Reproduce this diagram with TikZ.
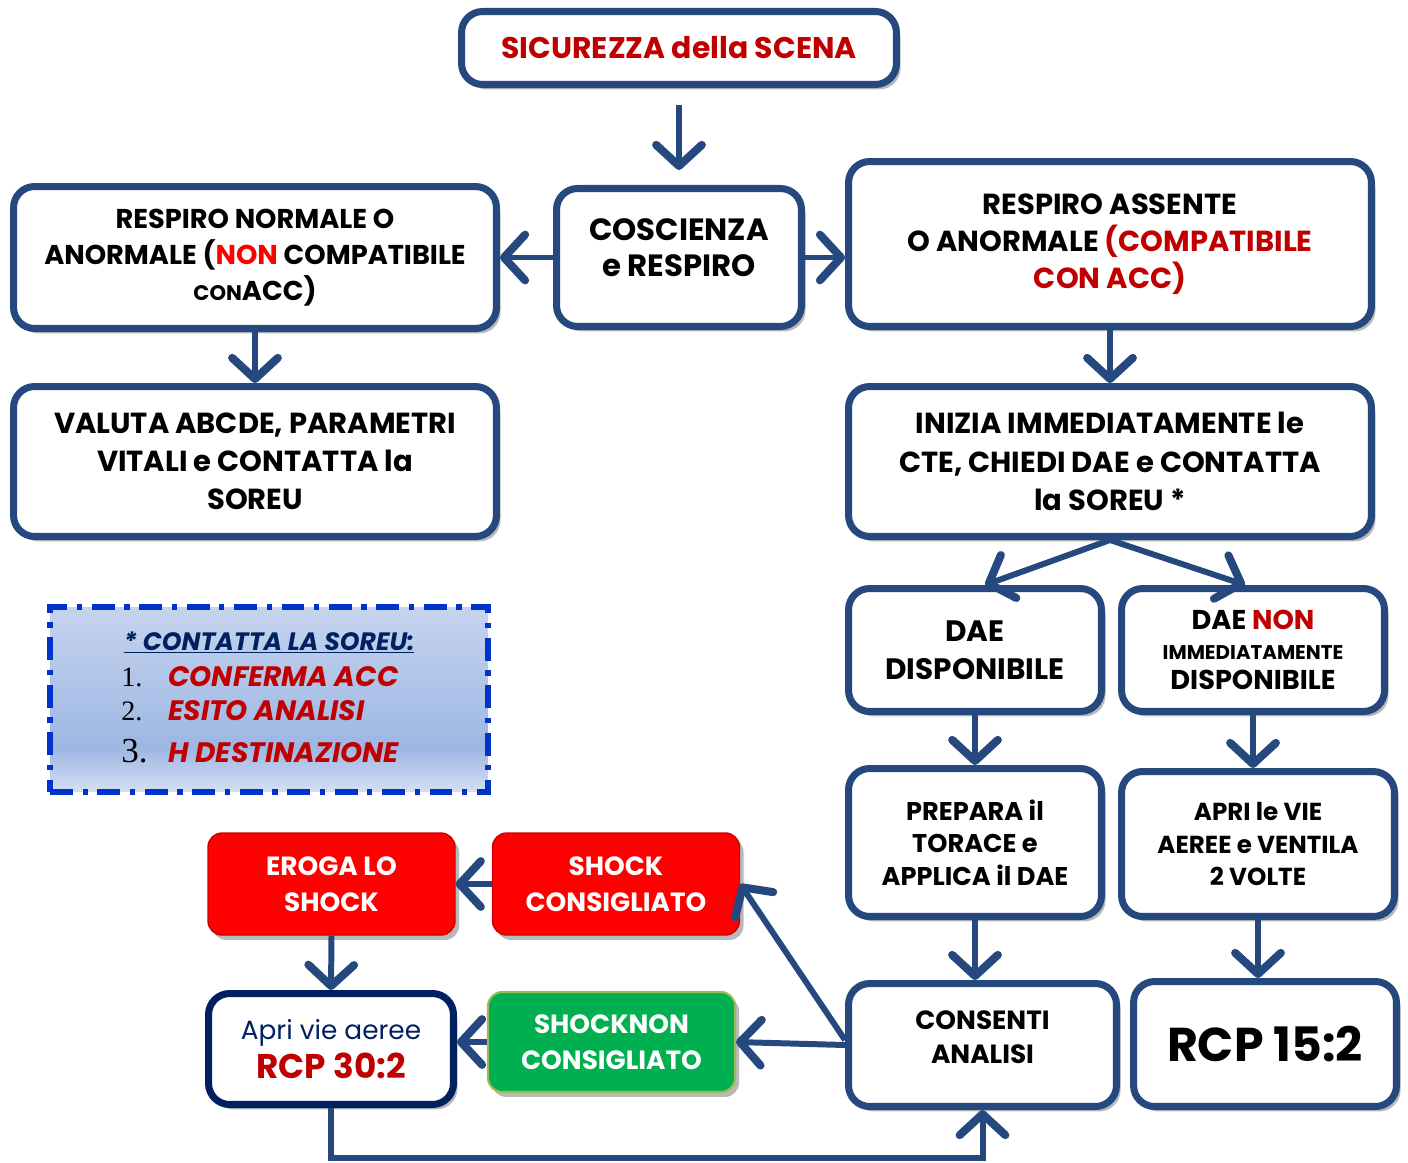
\documentclass[tikz,border=0pt]{standalone}
\usepackage{fontspec}
\setmainfont{Poppins}
\newfontfamily\numfont{Liberation Serif}
\usepackage{xcolor}
\usetikzlibrary{arrows.meta, positioning, shadows}
\definecolor{boxblue}{HTML}{25497E}
\definecolor{darkred}{HTML}{C00000}
\definecolor{brightred}{HTML}{FF0000}
\definecolor{navy}{HTML}{002060}
\definecolor{shockgreen}{HTML}{00B050}
\definecolor{greenedge}{HTML}{9BBB59}
\definecolor{legline}{HTML}{0033CC}
\definecolor{legtop}{HTML}{C6D4EE}
\definecolor{legband}{HTML}{9DB7E3}
\definecolor{legbot}{HTML}{D4DFF3}
\pgfdeclareverticalshading{legshade}{100bp}{color(0bp)=(legbot); color(25bp)=(legbot); color(37bp)=(legband); color(75bp)=(legtop); color(100bp)=(legtop)}
\newcommand{\fsz}[2]{\fontsize{#1}{#2}\selectfont}

\begin{document}
\begin{tikzpicture}[x=0.02cm, y=-0.02cm,
    shadowed/.style={drop shadow={shadow xshift=2.3pt, shadow yshift=-2.8pt, fill=black!50, opacity=.55}},
    box/.style 2 args={rectangle, rounded corners=12pt, draw=boxblue, line width=4pt, fill=white, align=center, inner sep=0pt, minimum width=#1, minimum height=#2, shadowed},
    redbox/.style={rectangle, rounded corners=8pt, draw=brightred!80!black, line width=0.8pt, fill=brightred, text=white, align=center, inner sep=0pt, minimum width=4.94cm, minimum height=2.04cm, font=\fsz{15}{20.4}\bfseries, shadowed},
    greenbox/.style={redbox, fill=shockgreen, draw=greenedge, line width=1.2pt, minimum height=2.00cm},
    flow/.style={draw=boxblue, line width=3.4pt, -{Straight Barb[length=12pt, width=26pt, line width=0pt 1.35, round]}},
    legbox/.style={rectangle, draw=legline, line width=3.2pt, dash pattern=on 13pt off 5.5pt on 3pt off 5.5pt, shading=legshade, minimum width=8.76cm, minimum height=3.70cm},
    legitem/.style={anchor=base west, inner sep=0pt, font=\fsz{16}{18}\bfseries\itshape, text=darkred}
]
\useasboundingbox (0,0) rectangle (1408,1162);

% upper part
\node[box={8.70cm}{1.46cm}, font=\fsz{17}{20}\bfseries, text=darkred] (scena) at (679,48) {SICUREZZA della SCENA};
\node[box={4.90cm}{2.76cm}, font=\fsz{17.5}{20.4}\bfseries] (coscienza) at (679,257.5) {COSCIENZA\\e RESPIRO\\[-9pt]\mbox{}};
\node[box={9.66cm}{2.84cm}, font=\fsz{15.5}{20.4}\bfseries] (respnorm) at (255,257.5) {RESPIRO NORMALE O\\ANORMALE (\textcolor{brightred}{NON} COMPATIBILE\\{\fsz{12}{14}CON}ACC)};
\node[box={10.46cm}{3.30cm}, font=\fsz{16.5}{21}\bfseries] (respass) at (1110,244) {RESPIRO ASSENTE\\O ANORMALE \textcolor{darkred}{(COMPATIBILE}\\\textcolor{darkred}{CON ACC)}};
\node[box={9.66cm}{3.00cm}, font=\fsz{16.5}{21.8}\bfseries] (valuta) at (255,461.5) {VALUTA ABCDE, PARAMETRI\\VITALI e CONTATTA la\\SOREU};
\node[box={10.46cm}{3.00cm}, font=\fsz{16.5}{21.8}\bfseries] (inizia) at (1110,461.5) {INIZIA IMMEDIATAMENTE le\\CTE, CHIEDI DAE e CONTATTA\\la SOREU *};

% right column
\node[box={5.06cm}{2.46cm}, font=\fsz{16.8}{21.5}\bfseries] (daesi) at (975,650) {DAE\\DISPONIBILE};
\node[box={5.26cm}{2.46cm}, font=\fsz{15.5}{17}\bfseries] (daeno) at (1253,650) {DAE \textcolor{darkred}{NON}\\{\fsz{11.3}{13}IMMEDIATAMENTE}\\DISPONIBILE};
\node[box={5.06cm}{2.96cm}, font=\fsz{14.6}{18.4}\bfseries] (prepara) at (975,842.5) {PREPARA il\\TORACE e\\APPLICA il DAE};
\node[box={5.46cm}{2.90cm}, font=\fsz{14}{18.7}\bfseries] (apriva) at (1258,844) {APRI le VIE\\AEREE e VENTILA\\2 VOLTE};
\node[box={5.36cm}{2.46cm}, font=\fsz{15}{19.3}\bfseries] (consenti) at (982.5,1045) {CONSENTI\\ANALISI\\[-10.3pt]\mbox{}};
\node[box={5.26cm}{2.50cm}, font=\fsz{27}{30}\bfseries] (rcpquindici) at (1265,1044) {RCP 15:2};

% shock boxes
\node[redbox] (shocksi) at (616,884) {SHOCK\\CONSIGLIATO};
\node[redbox] (eroga) at (331.5,884) {EROGA LO\\SHOCK};
\node[greenbox] (shockno) at (611.5,1042) {SHOCKNON\\CONSIGLIATO};
\node[box={4.90cm}{2.22cm}, draw=navy, font=\fsz{19.5}{22}\bfseries, text=darkred] (rcptrenta) at (331,1049) {{\fsz{15}{18}\mdseries\color{navy}Apri vie aeree}\\RCP 30:2};

% legend
\node[legbox] (legenda) at (269,699.5) {};
\node[anchor=base, inner sep=0pt, font=\fsz{14.3}{16}\bfseries\itshape, text=navy] (legtitolo) at (269,650) {\underline{* CONTATTA LA SOREU:}};
\node[anchor=base west, inner sep=0pt, font=\numfont\fsz{16}{18}] (num1) at (121,686) {1.};
\node[legitem] (voce1) at (168,686) {CONFERMA ACC};
\node[anchor=base west, inner sep=0pt, font=\numfont\fsz{16}{18}] (num2) at (121,720) {2.};
\node[legitem] (voce2) at (168,720) {ESITO ANALISI};
\node[anchor=base west, inner sep=0pt, font=\numfont\fsz{20}{22}] (num3) at (121,762) {3.};
\node[legitem] (voce3) at (168,762) {H DESTINAZIONE};

% connectors
\draw[flow, shorten <=0.34cm, shorten >=0.3cm] (scena.south) -- (coscienza.north);
\draw[flow] (coscienza.west) -- (respnorm.east);
\draw[flow] (coscienza.east) -- (coscienza.east -| respass.west);
\draw[flow] (respnorm.south) -- (valuta.north);
\draw[flow] (respass.south) -- (inizia.north);
\draw[flow] (inizia.south) -- ([xshift=0.2cm]daesi.north);
\draw[flow] (inizia.south) -- ([xshift=-0.16cm]daeno.north);
\draw[flow] (daesi.south) -- (prepara.north);
\draw[flow] (daeno.south) -- (daeno.south |- apriva.north);
\draw[flow] (prepara.south) -- (prepara.south |- consenti.north);
\draw[flow] (apriva.south) -- (apriva.south |- rcpquindici.north);
\draw[flow] ([yshift=0.1cm]consenti.west) -- (shocksi.east);
\draw[flow] (consenti.west) -- (shockno.east);
\draw[flow] (shocksi.west) -- (eroga.east);
\draw[flow] (eroga.south) -- (rcptrenta.north);
\draw[flow] (shockno.west) -- (shockno.west -| rcptrenta.east);
\draw[flow] (rcptrenta.south) -- ++(0,50) -| (consenti.south);
\end{tikzpicture}
\end{document}
